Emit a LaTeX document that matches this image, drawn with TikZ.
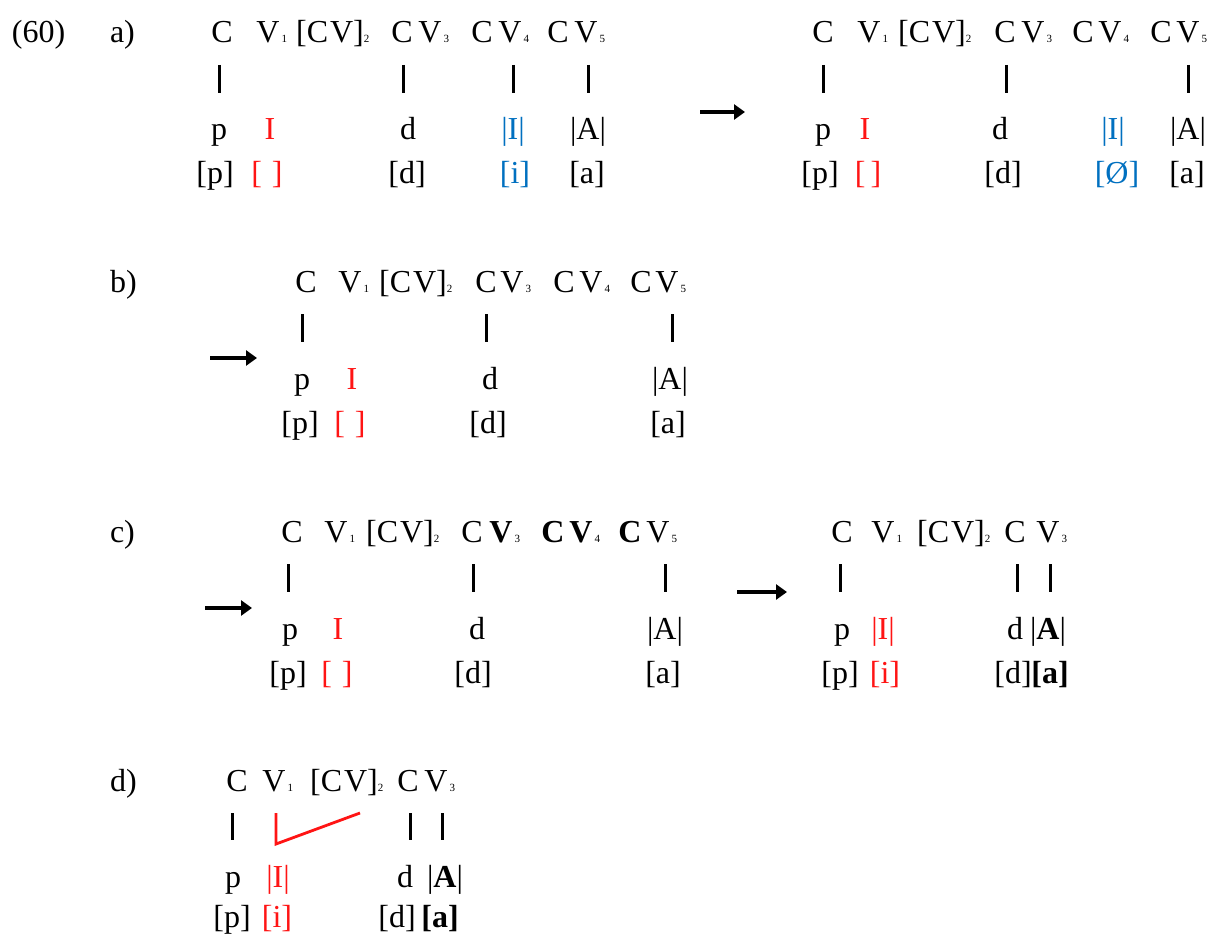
\documentclass[tikz,border=0pt]{standalone}
\usepackage{fontspec}
\setmainfont{Liberation Serif}
\usetikzlibrary{arrows.meta,calc}
\definecolor{segred}{RGB}{255,20,20}
\definecolor{segblue}{RGB}{0,112,192}
\newcommand{\fs}{\fontsize{32}{32}\selectfont}
\newcommand{\ssc}[1]{{\fontsize{11}{11}\selectfont #1}}
% association line from a skeletal slot down to a melodic element
\newcommand{\assoc}[3][0]{\draw[bar] ($(#2.south -| #3.north)+(#1,22)$) -- ($(#3.north)+(#1,-23)$);}
\begin{document}
\begin{tikzpicture}[x=1pt,y=-1pt,
  every node/.style={inner sep=0pt,outer sep=0pt,font=\fs},
  sk/.style={anchor=base,text height=22pt,text depth=0pt},
  ml/.style={anchor=base,text height=24pt,text depth=7pt},
  br/.style={anchor=base},
  lbl/.style={anchor=base west},
  bar/.style={line width=3pt},
  arr/.style={line width=3.5pt,-{Triangle[length=11pt,width=15pt]}},
  redl/.style={draw=segred,line width=2.8pt,line join=miter},
  rd/.style={text=segred},
  bl/.style={text=segblue}]
\useasboundingbox (0,0) rectangle (1225,936);
\fill[white] (0,0) rectangle (1225,936);

% ---------------- (60) a) ----------------
\node[lbl] (n60) at (12,43) {(60)};
\node[lbl] (la) at (110,43) {a)};
% left representation
\node[sk] (aC1) at (222,43) {C};
\node[sk] (aV1) at (268,43) {V\rlap{\kern2pt\ssc{1}}};
\node[sk] (aCV2) at (330,43) {[C\kern2pt V]\rlap{\ssc{2}}};
\node[sk] (aC3) at (402,43) {C};
\node[sk] (aV3) at (430,43) {V\rlap{\kern2pt\ssc{3}}};
\node[sk] (aC4) at (482,43) {C};
\node[sk] (aV4) at (510,43) {V\rlap{\kern2pt\ssc{4}}};
\node[sk] (aC5) at (558,43) {C};
\node[sk] (aV5) at (586,43) {V\rlap{\kern2pt\ssc{5}}};
\node[ml] (ap) at (219,140) {p};
\node[ml,rd] (aI) at (270,140) {I};
\node[ml] (ad) at (408,140) {d};
\node[ml,bl] (aIb) at (513,140) {|I|};
\node[ml] (aA) at (588,140) {|A|};
\node[br] (apb) at (215,184) {[p]};
\node[br,rd] (aeb) at (267,184) {[\kern10pt]};
\node[br] (adb) at (407,184) {[d]};
\node[br,bl] (aib) at (515,184) {[i]};
\node[br] (aab) at (587,184) {[a]};
\assoc{aC1}{ap}
\assoc[-5]{aC3}{ad}
\assoc{aV4}{aIb}
\assoc{aV5}{aA}
% arrow
\coordinate (aR0) at (700,112);
\coordinate (aR1) at (745,112);
\draw[arr] (aR0) -- (aR1);
% right representation
\node[sk] (rC1) at (823,43) {C};
\node[sk] (rV1) at (869,43) {V\rlap{\kern2pt\ssc{1}}};
\node[sk] (rCV2) at (932,43) {[C\kern2pt V]\rlap{\ssc{2}}};
\node[sk] (rC3) at (1005,43) {C};
\node[sk] (rV3) at (1033,43) {V\rlap{\kern2pt\ssc{3}}};
\node[sk] (rC4) at (1083,43) {C};
\node[sk] (rV4) at (1110,43) {V\rlap{\kern2pt\ssc{4}}};
\node[sk] (rC5) at (1161,43) {C};
\node[sk] (rV5) at (1188,43) {V\rlap{\kern2pt\ssc{5}}};
\node[ml] (rp) at (823,140) {p};
\node[ml,rd] (rI) at (865,140) {I};
\node[ml] (rd) at (1000,140) {d};
\node[ml,bl] (rIb) at (1113,140) {|I|};
\node[ml] (rA) at (1188,140) {|A|};
\node[br] (rpb) at (820,184) {[p]};
\node[br,rd] (reb) at (868,184) {[\kern5pt]};
\node[br] (rdb) at (1003,184) {[d]};
\node[br,bl] (rob) at (1117,184) {[Ø]};
\node[br] (rab) at (1187,184) {[a]};
\assoc{rC1}{rp}
\assoc[6]{rC3}{rd}
\assoc{rV5}{rA}

% ---------------- b) ----------------
\begin{scope}[shift={(0,249)}]
\node[lbl] (lb) at (110,43) {b)};
\coordinate (bR0) at (210,109);
\coordinate (bR1) at (257,109);
\draw[arr] (bR0) -- (bR1);
\node[sk] (bC1) at (306,43) {C};
\node[sk] (bV1) at (350,43) {V\rlap{\kern2pt\ssc{1}}};
\node[sk] (bCV2) at (413,43) {[C\kern2pt V]\rlap{\ssc{2}}};
\node[sk] (bC3) at (486,43) {C};
\node[sk] (bV3) at (512,43) {V\rlap{\kern2pt\ssc{3}}};
\node[sk] (bC4) at (564,43) {C};
\node[sk] (bV4) at (591,43) {V\rlap{\kern2pt\ssc{4}}};
\node[sk] (bC5) at (641,43) {C};
\node[sk] (bV5) at (667,43) {V\rlap{\kern2pt\ssc{5}}};
\node[ml] (bp) at (302,140) {p};
\node[ml,rd] (bI) at (352,140) {I};
\node[ml] (bd) at (490,140) {d};
\node[ml] (bA) at (670,140) {|A|};
\node[br] (bpb) at (300,184) {[p]};
\node[br,rd] (beb) at (350,184) {[\kern10pt]};
\node[br] (bdb) at (488,184) {[d]};
\node[br] (bab) at (668,184) {[a]};
\assoc{bC1}{bp}
\assoc[-4]{bC3}{bd}
\assoc[2]{bV5}{bA}
\end{scope}

% ---------------- c) ----------------
\begin{scope}[shift={(0,499)}]
\node[lbl] (lc) at (110,43) {c)};
\coordinate (cR0) at (205,109);
\coordinate (cR1) at (252,109);
\draw[arr] (cR0) -- (cR1);
\node[sk] (cC1) at (292,43) {C};
\node[sk] (cV1) at (336,43) {V\rlap{\kern2pt\ssc{1}}};
\node[sk] (cCV2) at (400,43) {[C\kern2pt V]\rlap{\ssc{2}}};
\node[sk] (cC3) at (472,43) {C};
\node[sk] (cV3) at (501,43) {\textbf{V}\rlap{\kern2pt\ssc{3}}};
\node[sk] (cC4) at (553,43) {\textbf{C}};
\node[sk] (cV4) at (581,43) {\textbf{V}\rlap{\kern2pt\ssc{4}}};
\node[sk] (cC5) at (630,43) {\textbf{C}};
\node[sk] (cV5) at (658,43) {V\rlap{\kern2pt\ssc{5}}};
\node[ml] (cp) at (290,140) {p};
\node[ml,rd] (cI) at (338,140) {I};
\node[ml] (cd) at (477,140) {d};
\node[ml] (cA) at (665,140) {|A|};
\node[br] (cpb) at (288,184) {[p]};
\node[br,rd] (ceb) at (337,184) {[\kern10pt]};
\node[br] (cdb) at (473,184) {[d]};
\node[br] (cab) at (663,184) {[a]};
\assoc[-2]{cC1}{cp}
\assoc[-4]{cC3}{cd}
\assoc{cV5}{cA}
% arrow to the reduced form
\coordinate (cS0) at (737,93);
\coordinate (cS1) at (787,93);
\draw[arr] (cS0) -- (cS1);
\node[sk] (sC1) at (842,43) {C};
\node[sk] (sV1) at (883,43) {V\rlap{\kern2pt\ssc{1}}};
\node[sk] (sCV2) at (951,43) {[C\kern2pt V]\rlap{\ssc{2}}};
\node[sk] (sC3) at (1015,43) {C};
\node[sk] (sV3) at (1048,43) {V\rlap{\kern2pt\ssc{3}}};
\node[ml] (sp) at (842,140) {p};
\node[ml,rd] (sI) at (883,140) {|I|};
\node[ml] (sd) at (1015,140) {d};
\node[ml] (sA) at (1048,140) {|\textbf{A}|};
\node[br] (spb) at (840,184) {[p]};
\node[br,rd] (sib) at (885,184) {[i]};
\node[br] (sdb) at (1013,184) {[d]};
\node[br] (sab) at (1050,184) {\textbf{[a]}};
\assoc[-2]{sC1}{sp}
\assoc[2]{sC3}{sd}
\assoc[2]{sV3}{sA}
\end{scope}

% ---------------- d) ----------------
\begin{scope}[shift={(0,748)}]
\node[lbl] (ld) at (110,43) {d)};
\node[sk] (dC1) at (237,43) {C};
\node[sk] (dV1) at (274,43) {V\rlap{\kern2pt\ssc{1}}};
\node[sk] (dCV2) at (344,43) {[C\kern2pt V]\rlap{\ssc{2}}};
\node[sk] (dC3) at (408,43) {C};
\node[sk] (dV3) at (436,43) {V\rlap{\kern2pt\ssc{3}}};
\node[ml] (dp) at (233,139) {p};
\node[ml,rd] (dI) at (278,139) {|I|};
\node[ml] (dd) at (405,139) {d};
\node[ml] (dA) at (445,139) {|\textbf{A}|};
\node[br] (dpb) at (232,179) {[p]};
\node[br,rd] (dib) at (277,179) {[i]};
\node[br] (ddb) at (397,179) {[d]};
\node[br] (dab) at (440,179) {\textbf{[a]}};
\assoc[-1]{dC1}{dp}
\assoc[5]{dC3}{dd}
\assoc[-3]{dV3}{dA}
% |I| linked to V1 and spread to the empty V2
\draw[redl] ($(dV1.south -| dI.north)+(-2,22)$) -- ($(dI.north)+(-2,-19)$) -- ($(dCV2.south)+(16,22)$);
\end{scope}
\end{tikzpicture}
\end{document}
